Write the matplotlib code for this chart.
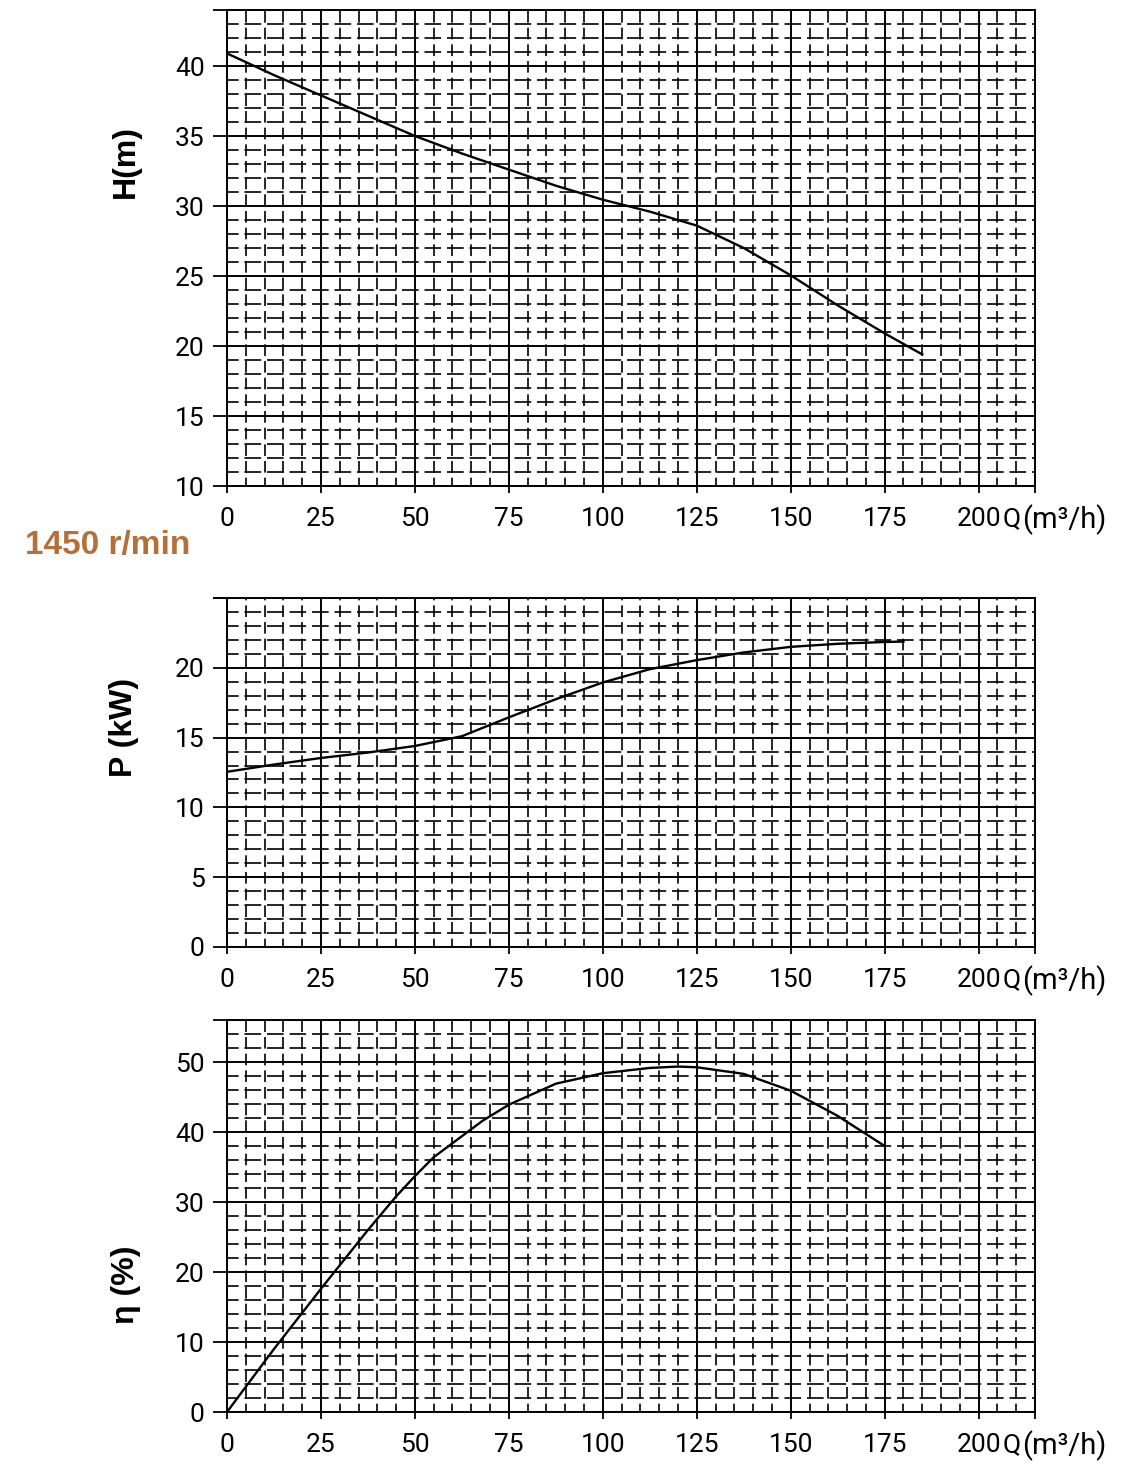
import matplotlib
matplotlib.use('Agg')
import matplotlib.pyplot as plt
from matplotlib.ticker import MultipleLocator

# pump curves (Q in m3/h)
q_h = [0, 12.5, 25, 37.5, 50, 62.5, 75, 87.5, 100, 112.5, 125, 137.5, 150, 162.5, 175, 185]
head = [40.9, 39.35, 37.9, 36.45, 35.0, 33.75, 32.6, 31.45, 30.45, 29.6, 28.6, 27.0, 25.05, 22.9, 20.9, 19.4]

q_p = [0, 12.5, 25, 37.5, 50, 62.5, 75, 87.5, 100, 112.5, 125, 137.5, 150, 162.5, 175, 180]
power = [12.55, 13.07, 13.54, 13.93, 14.4, 15.1, 16.45, 17.75, 18.95, 19.9, 20.55, 21.1, 21.5, 21.72, 21.85, 21.88]

q_e = [0, 12.5, 25, 37.5, 45, 50, 55, 62.5, 68, 75, 87.5, 100, 112.5, 120, 125, 137.5, 150, 162.5, 175]
eff = [0, 9.0, 17.6, 26.0, 30.8, 33.7, 36.4, 39.4, 41.6, 43.9, 46.9, 48.4, 49.15, 49.35, 49.25, 48.3, 45.9, 42.3, 38.0]

x_ticks = [0, 25, 50, 75, 100, 125, 150, 175, 200]
x_max = 215

W, H = 1134, 1465
fig = plt.figure(figsize=(W / 100, H / 100), dpi=100)

tick_font = dict(family=['Roboto', 'DejaVu Sans'], weight='normal', size=19)
label_font = dict(family=['Liberation Sans', 'DejaVu Sans'], weight='bold', size=23)


def px_axes(top, bottom):
    return fig.add_axes([227 / W, 1 - bottom / H, (1035 - 227) / W, (bottom - top) / H])


def setup(ax, ymin, ymax, yminor, ylabels):
    ax.set_xlim(0, x_max)
    ax.set_ylim(ymin, ymax)
    ax.set_xticks(x_ticks + [x_max])
    ax.set_xticklabels([str(t) for t in x_ticks] + [''], fontdict=tick_font)
    ax.set_yticks(ylabels + [ymax])
    ax.set_yticklabels([str(t) for t in ylabels] + [''], fontdict=tick_font)
    ax.xaxis.set_minor_locator(MultipleLocator(5))
    ax.yaxis.set_minor_locator(MultipleLocator(yminor))
    ax.tick_params(axis='x', which='major', length=5, width=1.3, pad=10, direction='out')
    ax.tick_params(axis='y', which='major', length=10, width=1.3, pad=6, direction='out')
    ax.tick_params(which='minor', length=0)
    ax.grid(which='major', color='black', linewidth=1.4, linestyle='-')
    ax.grid(which='minor', axis='x', color='black', linewidth=1.2, linestyle=(2, (7, 3)))
    ax.grid(which='minor', axis='y', color='black', linewidth=1.2, linestyle=(3, (10, 3.5)))
    ax.set_axisbelow(True)
    for s in ax.spines.values():
        s.set_linewidth(1.4)
    ax.annotate('Q', xy=(206.5, 0), xycoords=('data', 'axes fraction'),
                xytext=(0, -15), textcoords='offset points', ha='left', va='top',
                annotation_clip=False, **{'fontfamily': tick_font['family'], 'fontsize': 19})
    ax.annotate('(m³/h)', xy=(211.5, 0), xycoords=('data', 'axes fraction'),
                xytext=(0, -13), textcoords='offset points', ha='left', va='top',
                annotation_clip=False, **{'fontfamily': tick_font['family'], 'fontsize': 21})


ax1 = px_axes(10, 486)
setup(ax1, 10, 44, 1, [10, 15, 20, 25, 30, 35, 40])
ax1.plot(q_h, head, color='black', lw=1.7)

ax2 = px_axes(598, 947)
setup(ax2, 0, 25, 1, [0, 5, 10, 15, 20, 25])
ax2.plot(q_p, power, color='black', lw=1.7)

ax3 = px_axes(1020, 1412)
setup(ax3, 0, 56, 2, [0, 10, 20, 30, 40, 50])
ax3.plot(q_e, eff, color='black', lw=1.7)

fig.text(126 / W, 1 - 162 / H, 'H(m)', rotation=90, ha='center', va='center', **label_font)
fig.text(124 / W, 1 - 727 / H, 'P (kW)', rotation=90, ha='center', va='center', **label_font)
fig.text(126 / W, 1 - 1285 / H, 'η (%)', rotation=90, ha='center', va='center', **label_font)
fig.text(25 / W, 1 - 546 / H, '1450 r/min', ha='left', va='center', color='#b5703a',
         family=['Liberation Sans', 'DejaVu Sans'], weight='bold', size=24)

fig.savefig('out.png', dpi=100)
